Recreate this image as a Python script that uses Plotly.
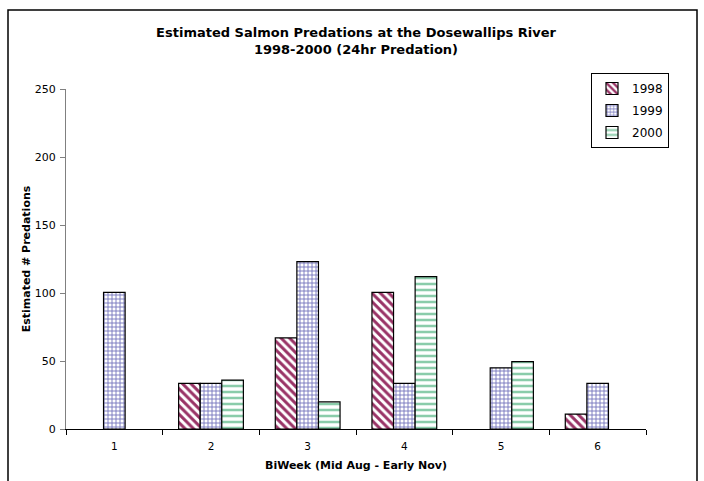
import plotly.graph_objects as go

# Biweekly periods, mid August through early November
biweeks = ["1", "2", "3", "4", "5", "6"]

# Estimated predations per biweek (None = no estimate for that period)
pred_1998 = [None, 33.5, 67, 100.5, None, 11]
pred_1999 = [100.5, 33.5, 123, 33.5, 45, 33.5]
pred_2000 = [None, 36, 20, 112, 49.5, None]

y_ticks = [0, 50, 100, 150, 200, 250]

FONT = "Verdana, DejaVu Sans, sans-serif"

series = [
    ("1998", pred_1998, dict(shape="\\", fgcolor="#993366", bgcolor="white", size=6, solidity=0.5, fgopacity=1)),
    ("1999", pred_1999, dict(shape="+", fgcolor="#7474BC", bgcolor="white", size=4, solidity=0.4, fgopacity=1)),
    ("2000", pred_2000, dict(shape="-", fgcolor="#8ACCAA", bgcolor="white", size=6, solidity=0.42, fgopacity=1)),
]

fig = go.Figure()
for name, vals, pat in series:
    fig.add_trace(go.Bar(
        x=biweeks, y=vals, name=name, legendgroup=name,
        marker=dict(color="white", pattern=pat, line=dict(color="black", width=1.2)),
    ))

# plot area: x 66..646 px, y 89..429 px
L, R, T, B = 66, 58, 89, 52
W, H = 704, 481
pw, ph = W - L - R, H - T - B

def px(x):
    return (x - L) / pw

def py(y):
    return (H - B - y) / ph

fig.update_layout(
    width=W, height=H,
    margin=dict(l=L, r=R, t=T, b=B),
    paper_bgcolor="white", plot_bgcolor="white",
    font=dict(family=FONT, color="black", size=11),
    barmode="group", bargap=0.33, bargroupgap=0,
    title=dict(
        text="<b>Estimated Salmon Predations at the Dosewallips River<br>1998-2000 (24hr Predation)</b>",
        x=0.5, xanchor="center", xref="paper",
        y=1 - 37 / H, yanchor="top", yref="container",
        font=dict(family=FONT, size=13, color="black"),
    ),
    legend=dict(
        x=px(591), xanchor="left", y=py(73), yanchor="top",
        bgcolor="white", bordercolor="black", borderwidth=1,
        font=dict(family=FONT, size=12, color="black"),
        traceorder="grouped", tracegroupgap=3, itemwidth=30,
    ),
    showlegend=True,
    shapes=[dict(
        type="rect", xref="paper", yref="paper",
        x0=px(8), x1=px(697), y0=py(495), y1=py(10),
        line=dict(color="black", width=1.5), fillcolor="rgba(0,0,0,0)", layer="below",
    )],
)

fig.update_xaxes(
    type="category", showgrid=False, showline=True, linecolor="black", linewidth=1,
    ticks="outside", tickson="boundaries", ticklen=5, tickcolor="black",
    ticklabelstandoff=7,
    tickfont=dict(family=FONT, size=10.5),
    title=dict(text="<b>BiWeek (Mid Aug - Early Nov)</b>", font=dict(family=FONT, size=11), standoff=10),
)
fig.update_yaxes(
    range=[0, 250], tickvals=y_ticks, showgrid=False, zeroline=False,
    showline=True, linecolor="#808080", linewidth=1,
    ticks="outside", ticklen=5, tickcolor="#808080",
    ticklabelstandoff=2,
    tickfont=dict(family=FONT, size=11),
    title=dict(text="<b>Estimated # Predations</b>", font=dict(family=FONT, size=11), standoff=1),
)

fig.write_html("out.html")
